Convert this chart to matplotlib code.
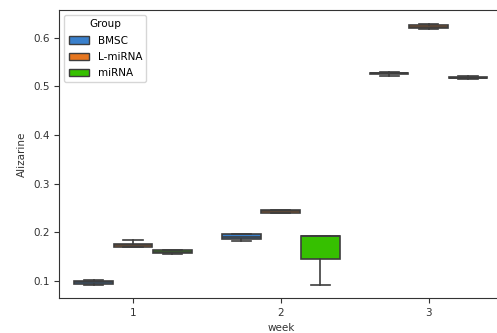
import matplotlib.pyplot as plt
from matplotlib.patches import Patch

weeks = ["1", "2", "3"]
groups = ["BMSC", "L-miRNA", "miRNA"]
colors = ["#3a80cc", "#e6761f", "#36c000"]

# per group, per week: lower whisker, q1, median, q3, upper whisker
whislo = {"BMSC": [0.092, 0.182, 0.522],
          "L-miRNA": [0.169, 0.239, 0.617],
          "miRNA": [0.156, 0.092, 0.516]}
q1 = {"BMSC": [0.094, 0.186, 0.525],
      "L-miRNA": [0.170, 0.240, 0.619],
      "miRNA": [0.157, 0.145, 0.518]}
med = {"BMSC": [0.097, 0.191, 0.527],
       "L-miRNA": [0.174, 0.243, 0.622],
       "miRNA": [0.159, 0.192, 0.518]}
q3 = {"BMSC": [0.101, 0.197, 0.528],
      "L-miRNA": [0.177, 0.246, 0.626],
      "miRNA": [0.163, 0.192, 0.519]}
whishi = {"BMSC": [0.102, 0.197, 0.529],
          "L-miRNA": [0.185, 0.246, 0.628],
          "miRNA": [0.164, 0.192, 0.521]}

fig = plt.figure(figsize=(4.97, 3.33), dpi=100)
ax = fig.add_axes([0.119, 0.105, 0.892, 0.865])

edge = "#3d3d3d"
width = 0.8 / len(groups)
for gi, g in enumerate(groups):
    offset = -0.4 + width * (gi + 0.5)
    stats = []
    for wi in range(len(weeks)):
        stats.append(dict(whislo=whislo[g][wi], q1=q1[g][wi], med=med[g][wi],
                          q3=q3[g][wi], whishi=whishi[g][wi], fliers=[]))
    pos = [wi + offset for wi in range(len(weeks))]
    ax.bxp(stats, positions=pos, widths=width * 0.98, patch_artist=True,
           showfliers=False, manage_ticks=False,
           boxprops=dict(facecolor=colors[gi], edgecolor=edge, linewidth=1.2),
           medianprops=dict(color=edge, linewidth=1.2),
           whiskerprops=dict(color=edge, linewidth=1.2),
           capprops=dict(color=edge, linewidth=1.2))

ax.set_xlim(-0.5, len(weeks) - 0.5)
ax.set_ylim(0.065, 0.657)
ax.set_xticks(range(len(weeks)))
ax.set_xticklabels(weeks)
ax.set_yticks([0.1, 0.2, 0.3, 0.4, 0.5, 0.6])
ax.tick_params(labelsize=7.5, colors="#333333")
for s in ax.spines.values():
    s.set_color("#333333")
ax.set_xlabel("week", fontsize=7.5, color="#333333", labelpad=4)
ax.set_ylabel("Alizarine", fontsize=7.5, color="#333333")

handles = [Patch(facecolor=c, edgecolor=edge, label=g) for g, c in zip(groups, colors)]
ax.legend(handles=handles, title="Group", loc="upper left", fontsize=7.5,
          title_fontsize=7.5, frameon=True, labelspacing=0.6)

fig.savefig("out.png", dpi=100)
